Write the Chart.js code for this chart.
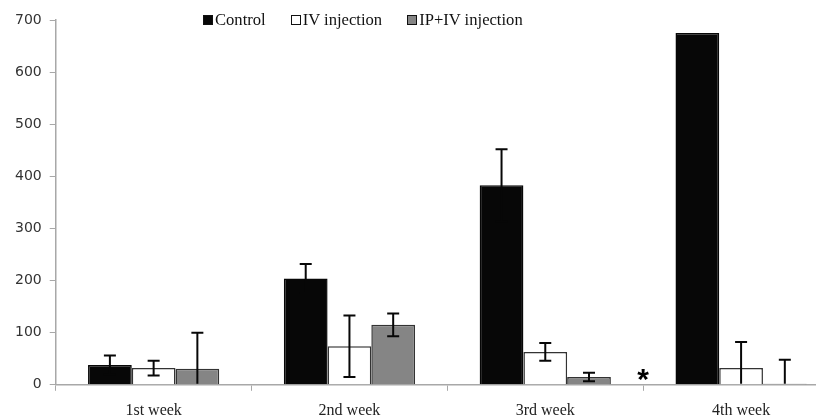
<!DOCTYPE html>
<html>
<head>
<meta charset="utf-8">
<script src="https://cdn.jsdelivr.net/npm/chart.js@4/dist/chart.umd.min.js"></script>
<style>
  html, body { margin: 0; padding: 0; background: #fff; overflow: hidden; }
  #wrap { position: relative; width: 839px; height: 420px; }
  #legend { position: absolute; left: 203px; top: 10px; display: flex; gap: 25px;
            font-family: "Liberation Serif", serif; font-size: 16.6px; color: #111; }
  #legend span.item { display: flex; align-items: center; }
  #legend span.box { display: inline-block; width: 8px; height: 8px; border: 1px solid #111; margin-right: 2px; }
</style>
</head>
<body>
<div id="wrap">
  <canvas id="chart"></canvas>
  <div id="legend"></div>
</div>
<script>
// values
const categories = ['1st week', '2nd week', '3rd week', '4th week'];
const controlMean = [38, 204, 383, 675];
const controlErr = [18, 28, 69, 0];
const ivMean = [32, 74, 63, 32];
const ivErr = [14, 59, 17, 50];
const ipivMean = [31, 115, 15, 2];
const ipivErr = [69, 22, 8, 46];
const yTicks = [0, 100, 200, 300, 400, 500, 600, 700];
// asterisk sits between these two weeks, just above zero
const starBetween = ['3rd week', '4th week'];
const starValue = 18;

const datasets = [
    { label: 'Control', data: controlMean, errors: controlErr, backgroundColor: '#070707', borderColor: '#070707' },
    { label: 'IV injection', data: ivMean, errors: ivErr, backgroundColor: '#ffffff', borderColor: '#333333' },
    { label: 'IP+IV injection', data: ipivMean, errors: ipivErr, backgroundColor: '#858585', borderColor: '#333333' }
];
datasets.forEach(d => {
    d.borderWidth = 1.5;
    d.barPercentage = 1;
    d.categoryPercentage = 0.67;
});

const errorBars = {
    id: 'errorBars',
    afterDatasetsDraw(chart) {
        const ctx = chart.ctx;
        const y = chart.scales.y;
        const area = chart.chartArea;
        ctx.save();
        ctx.beginPath();
        ctx.rect(area.left, area.top - 2, area.right - area.left, area.bottom - area.top + 1);
        ctx.clip();
        ctx.strokeStyle = '#070707';
        ctx.lineWidth = 2;
        chart.data.datasets.forEach((ds, i) => {
            const meta = chart.getDatasetMeta(i);
            meta.data.forEach((bar, j) => {
                const err = ds.errors[j];
                if (!err) return;
                const top = y.getPixelForValue(ds.data[j] + err);
                const bot = y.getPixelForValue(ds.data[j] - err);
                ctx.beginPath();
                ctx.moveTo(bar.x, top); ctx.lineTo(bar.x, bot);
                ctx.moveTo(bar.x - 6, top); ctx.lineTo(bar.x + 6, top);
                ctx.moveTo(bar.x - 6, bot); ctx.lineTo(bar.x + 6, bot);
                ctx.stroke();
            });
        });
        ctx.restore();
    }
};

const asterisk = {
    id: 'asterisk',
    afterDraw(chart) {
        const x = chart.scales.x;
        const y = chart.scales.y;
        const a = x.getPixelForValue(categories.indexOf(starBetween[0]));
        const b = x.getPixelForValue(categories.indexOf(starBetween[1]));
        const ctx = chart.ctx;
        ctx.save();
        ctx.fillStyle = '#000';
        ctx.font = 'bold 30px "Liberation Sans"';
        ctx.textAlign = 'center';
        ctx.textBaseline = 'alphabetic';
        const m = ctx.measureText('*');
        const mid = (m.actualBoundingBoxAscent - m.actualBoundingBoxDescent) / 2;
        ctx.fillText('*', (a + b) / 2, y.getPixelForValue(starValue) + mid);
        ctx.restore();
    }
};

new Chart(document.getElementById('chart'), {
    type: 'bar',
    data: { labels: categories, datasets: datasets },
    plugins: [errorBars, asterisk],
    options: {
        responsive: true,
        maintainAspectRatio: false,
        animation: false,
        layout: { padding: { left: 7, top: 20, right: 0, bottom: -10 } },
        plugins: { legend: { display: false }, tooltip: { enabled: false } },
        scales: {
            x: {
                offset: true,
                grid: { display: true, offset: true, drawOnChartArea: false, color: '#a8a8a8', tickLength: 6 },
                border: { color: '#a8a8a8', width: 1.5 },
                ticks: { color: '#222', padding: 10, font: { family: '"Liberation Serif"', size: 16 } }
            },
            y: {
                min: 0,
                max: 700,
                afterBuildTicks(scale) { scale.ticks = yTicks.map(v => ({ value: v })); },
                grid: { display: true, drawOnChartArea: false, color: '#a8a8a8', tickLength: 6 },
                border: { color: '#a8a8a8', width: 1.5 },
                ticks: { color: '#333', padding: 8, font: { family: '"DejaVu Sans"', size: 14 } }
            }
        }
    }
});

// legend built from the datasets
const legend = document.getElementById('legend');
datasets.forEach(d => {
    const item = document.createElement('span');
    item.className = 'item';
    item.innerHTML = `<span class="box" style="background:${d.backgroundColor}"></span>${d.label}`;
    legend.appendChild(item);
});
</script>
</body>
</html>
